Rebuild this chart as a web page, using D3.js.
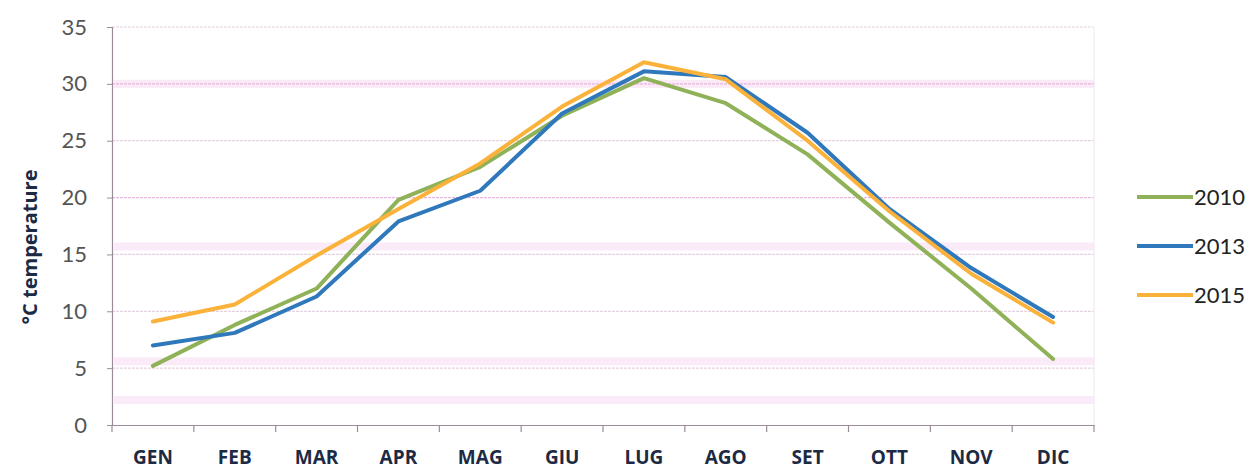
<!DOCTYPE html>
<html>
<head>
<meta charset="utf-8">
<script src="https://cdn.jsdelivr.net/npm/d3@7"></script>
<style>
  html, body { margin: 0; padding: 0; background: #fff; }
  svg { display: block; }
</style>
</head>
<body>
<svg id="chart" width="1250" height="470"></svg>
<script>
// Monthly mean temperatures (°C)
const months = ["GEN", "FEB", "MAR", "APR", "MAG", "GIU", "LUG", "AGO", "SET", "OTT", "NOV", "DIC"];
const t2010 = [5.2, 8.8, 12.0, 19.8, 22.7, 27.2, 30.5, 28.3, 23.8, 17.8, 12.0, 5.8];
const t2013 = [7.0, 8.1, 11.3, 17.9, 20.6, 27.4, 31.1, 30.6, 25.7, 19.0, 13.8, 9.5];
const t2015 = [9.1, 10.6, 14.9, 19.0, 23.0, 28.0, 31.9, 30.4, 25.0, 18.8, 13.3, 9.0];
const yTicks = [0, 5, 10, 15, 20, 25, 30, 35];
const seriesNames = ["2010", "2013", "2015"];
const seriesColors = ["#8fb158", "#2f78bb", "#fbb23a"];

const series = seriesNames.map((name, i) => ({
  name, color: seriesColors[i], values: [t2010, t2013, t2015][i]
}));

const svg = d3.select("#chart");
const plotLeft = 112, plotRight = 1094, plotTop = 27, plotBottom = 425;

const x = d3.scaleBand().domain(months).range([plotLeft, plotRight]).padding(0);
const y = d3.scaleLinear().domain([0, 35]).range([plotBottom, plotTop]);

// soft pink bands in the background
const bands = [30, 15.7, 5.6, 2.2];
svg.append("g").selectAll("rect").data(bands).join("rect")
  .attr("x", plotLeft + 2).attr("width", plotRight - plotLeft - 2)
  .attr("y", d => y(d) - 4).attr("height", 8)
  .attr("fill", "#f7d6f0").attr("opacity", 0.5);

// horizontal gridlines
svg.append("g").selectAll("line").data(yTicks.slice(1)).join("line")
  .attr("x1", plotLeft).attr("x2", plotRight)
  .attr("y1", d => y(d)).attr("y2", d => y(d))
  .attr("stroke", d => (d === 30 || d === 20) ? "#e6b6dc" : "#e3d3e0")
  .attr("stroke-width", 1.2)
  .attr("stroke-dasharray", "3 1");

// right border of plot area (faint)
svg.append("line")
  .attr("x1", plotRight).attr("x2", plotRight).attr("y1", plotTop).attr("y2", plotBottom)
  .attr("stroke", "#efe6ee").attr("stroke-width", 1);

// y axis
const yAxis = svg.append("g").attr("transform", `translate(${plotLeft},0)`)
  .call(d3.axisLeft(y).tickValues(yTicks).tickSize(5).tickPadding(20));
yAxis.select(".domain").attr("stroke", "#9a8c98").attr("stroke-width", 1.2);
yAxis.selectAll(".tick line").attr("stroke", "#9a8c98");
yAxis.selectAll(".tick text")
  .attr("font-family", "Lato, 'Open Sans', sans-serif")
  .attr("font-size", 22).attr("fill", "#555");

// x axis with ticks on category boundaries
const xAxis = svg.append("g").attr("transform", `translate(0,${plotBottom})`)
  .call(d3.axisBottom(x).tickSize(0).tickPadding(26));
xAxis.select(".domain").attr("stroke", "#9a8c98").attr("stroke-width", 1.2);
xAxis.selectAll(".tick text")
  .attr("font-family", "'Open Sans', Lato, sans-serif")
  .attr("font-weight", "bold")
  .attr("font-size", 19).attr("fill", "#1c2a44");
const edges = months.map(m => x(m)).concat([plotRight]);
xAxis.append("g").selectAll("line").data(edges).join("line")
  .attr("x1", d => d).attr("x2", d => d)
  .attr("y1", 0).attr("y2", 7)
  .attr("stroke", "#9a8c98").attr("stroke-width", 1.2);

// y axis title
svg.append("text")
  .attr("transform", `translate(37,247) rotate(-90)`)
  .attr("text-anchor", "middle")
  .attr("font-family", "'Open Sans', Lato, sans-serif")
  .attr("font-weight", "bold").attr("font-size", 20)
  .attr("fill", "#1c2a44")
  .text("°C temperature");

// lines
const line = d3.line()
  .x((d, i) => x(months[i]) + x.bandwidth() / 2)
  .y(d => y(d));

svg.append("g").selectAll("path").data(series).join("path")
  .attr("d", d => line(d.values))
  .attr("fill", "none")
  .attr("stroke", d => d.color)
  .attr("stroke-width", 4)
  .attr("stroke-linejoin", "round")
  .attr("stroke-linecap", "round");

// legend
const legend = svg.append("g").selectAll("g").data(series).join("g")
  .attr("transform", (d, i) => `translate(1137,${197 + i * 49})`);
legend.append("line")
  .attr("x1", 0).attr("x2", 56)
  .attr("stroke", d => d.color).attr("stroke-width", 4);
legend.append("text")
  .attr("x", 57).attr("y", 8)
  .attr("font-family", "Lato, 'Open Sans', sans-serif")
  .attr("font-size", 22).attr("fill", "#222")
  .text(d => d.name);
</script>
</body>
</html>
